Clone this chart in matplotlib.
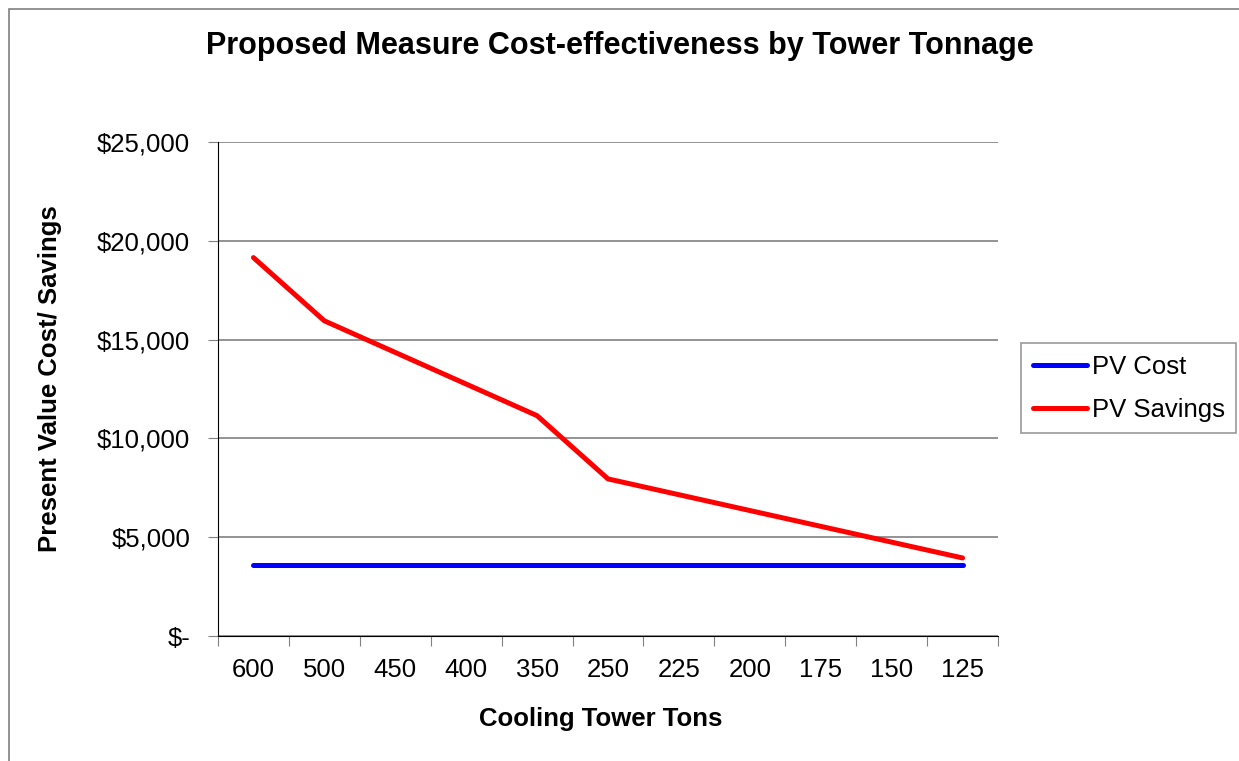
import matplotlib.pyplot as plt
import matplotlib.patches as patches

plt.rcParams['font.family'] = ['Liberation Sans', 'DejaVu Sans']

tons = ['600', '500', '450', '400', '350', '250', '225', '200', '175', '150', '125']
pv_cost = [3600, 3600, 3600, 3600, 3600, 3600, 3600, 3600, 3600, 3600, 3600]
pv_savings = [19150, 15950, 14350, 12750, 11150, 7950, 7150, 6350, 5550, 4750, 3950]

fig = plt.figure(figsize=(12.39, 7.61), dpi=100)
ax = fig.add_axes([218 / 1239, 1 - 636 / 761, 780 / 1239, 494 / 761])

# outer chart border (only left/top visible in the reference)
fig.patches.append(patches.Rectangle((9 / 1239, -0.1), 1.2, 1 - 9 / 761 + 0.1,
                                     transform=fig.transFigure, fill=False,
                                     edgecolor='#808080', linewidth=1.2))

x = list(range(len(tons)))
ax.plot(x, pv_cost, color='#0000ff', linewidth=3.6, solid_capstyle='round', label='PV Cost')
ax.plot(x, pv_savings, color='#ff0000', linewidth=3.6, solid_capstyle='round',
        solid_joinstyle='round', label='PV Savings')

ax.set_xlim(-0.5, len(tons) - 0.5)
ax.set_ylim(0, 25000)
ax.set_xticks([i - 0.5 for i in range(len(tons) + 1)])
ax.set_xticklabels([])
ax.set_xticks(x, minor=True)
ax.set_xticklabels(tons, minor=True, fontsize=18.5)
ax.tick_params(axis='x', which='minor', length=0, pad=16)
ax.tick_params(axis='x', which='major', length=7, direction='out', color='#808080')

yt = [0, 5000, 10000, 15000, 20000, 25000]
ax.set_yticks(yt)
ax.set_yticklabels(['$-', '$5,000', '$10,000', '$15,000', '$20,000', '$25,000'], fontsize=18.5)
ax.tick_params(axis='y', length=7, direction='out', pad=13, color='#808080')
ax.grid(axis='y', color='#808080', linewidth=1.2)
ax.set_axisbelow(True)

for s in ['top', 'right']:
    ax.spines[s].set_visible(False)
ax.spines['left'].set_color('black')
ax.spines['bottom'].set_color('black')

ax.set_xlabel('Cooling Tower Tons', fontsize=18.5, fontweight='bold')
ax.set_ylabel('Present Value Cost/ Savings', fontsize=18.5, fontweight='bold')
ax.xaxis.set_label_coords(0.491, -0.144)
ax.yaxis.set_label_coords(-0.2, 0.522)
fig.suptitle('Proposed Measure Cost-effectiveness by Tower Tonnage', fontsize=22,
             fontweight='bold', x=0.5, y=1 - 46 / 761, va='center')

leg = ax.legend(loc='upper left', bbox_to_anchor=(1021 / 1239, 1 - 343 / 761),
                bbox_transform=fig.transFigure, fontsize=18.5, frameon=True, fancybox=False,
                handlelength=2.1, handletextpad=0.2, borderpad=0.45, labelspacing=0.75,
                borderaxespad=0)
leg.get_frame().set_edgecolor('#808080')
leg.get_frame().set_linewidth(1.2)

fig.savefig('out.png', dpi=100)
